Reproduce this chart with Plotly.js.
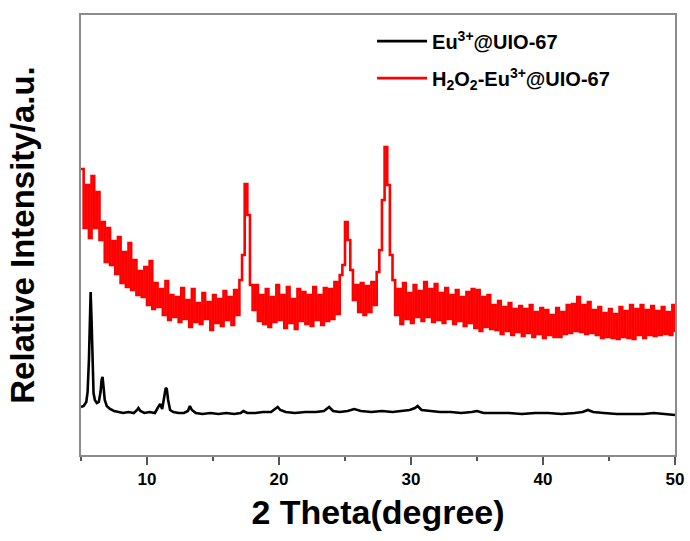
<!DOCTYPE html>
<html>
<head>
<meta charset="utf-8">
<script src="https://cdn.plot.ly/plotly-3.0.1.min.js"></script>
<style>html,body{margin:0;padding:0;background:#fff;}#chart{width:690px;height:541px;}</style>
</head>
<body>
<div id="chart"></div>
<script>
// Eu3+@UIO-67 (black) - 2 Theta (degree) and relative intensity (a.u.)
var blackX = [5.0,5.2,5.4,5.5,5.6,5.67,5.73,5.8,5.88,5.95,6.05,6.2,6.35,6.48,6.56,6.63,6.7,6.8,6.95,7.2,
  7.5,7.8,8.2,8.6,9.0,9.25,9.35,9.5,9.8,10.2,10.6,10.85,11.0,11.15,11.3,11.42,11.5,11.6,11.75,12.0,
  12.4,12.8,13.1,13.25,13.4,13.7,14.2,14.8,15.4,16.0,16.6,17.1,17.3,17.6,18.2,18.8,19.4,19.75,19.9,20.1,
  20.5,21.2,22.0,22.8,23.4,23.8,24.1,24.6,25.2,25.7,26.2,27.0,27.8,28.6,29.3,29.9,30.3,30.5,30.8,31.4,
  32.2,33.0,33.8,34.6,35.0,35.5,36.4,37.4,38.4,39.4,40.4,41.4,42.4,43.0,43.4,43.8,44.6,45.6,46.6,47.6,
  48.4,49.2,50.0];
var blackY = [48,49,53,63,95,137,163,135,83,62,55,52,53,63,75,78,69,55,49,46,
  44,43,42,43,42,45,47,44,42,43,42,48,51,46,57,67,66,55,45,43,
  42,42,44,49,45,42,41,42,41,42,41,42,44,42,42,43,43,46,48,45,
  43,42,43,43,44,48,44,43,44,46,44,43,44,43,44,45,47,49,45,44,
  43,43,42,43,44,42,42,42,41,42,42,41,42,43,45,43,42,41,41,41,
  42,41,40];

// H2O2-Eu3+@UIO-67 (red) - scan points every 0.2 degree
var redX = [
  5.0,5.2,5.4,5.6,5.8, 6.0,6.2,6.4,6.6,6.8, 7.0,7.2,7.4,7.6,7.8, 8.0,8.2,8.4,8.6,8.8,
  9.0,9.2,9.4,9.6,9.8, 10.0,10.2,10.4,10.6,10.8, 11.0,11.2,11.4,11.6,11.8, 12.0,12.2,12.4,12.6,12.8,
  13.0,13.2,13.4,13.6,13.8, 14.0,14.2,14.4,14.6,14.8, 15.0,15.2,15.4,15.6,15.8, 16.0,16.2,16.4,16.6,16.8,
  17.0,17.2,17.4,17.6,17.8, 18.0,18.2,18.4,18.6,18.8, 19.0,19.2,19.4,19.6,19.8, 20.0,20.2,20.4,20.6,20.8,
  21.0,21.2,21.4,21.6,21.8, 22.0,22.2,22.4,22.6,22.8, 23.0,23.2,23.4,23.6,23.8, 24.0,24.2,24.4,24.6,24.8,
  25.0,25.2,25.4,25.6,25.8, 26.0,26.2,26.4,26.6,26.8, 27.0,27.2,27.4,27.6,27.8, 28.0,28.2,28.4,28.6,28.8,
  29.0,29.2,29.4,29.6,29.8, 30.0,30.2,30.4,30.6,30.8, 31.0,31.2,31.4,31.6,31.8, 32.0,32.2,32.4,32.6,32.8,
  33.0,33.2,33.4,33.6,33.8, 34.0,34.2,34.4,34.6,34.8, 35.0,35.2,35.4,35.6,35.8, 36.0,36.2,36.4,36.6,36.8,
  37.0,37.2,37.4,37.6,37.8, 38.0,38.2,38.4,38.6,38.8, 39.0,39.2,39.4,39.6,39.8, 40.0,40.2,40.4,40.6,40.8,
  41.0,41.2,41.4,41.6,41.8, 42.0,42.2,42.4,42.6,42.8, 43.0,43.2,43.4,43.6,43.8, 44.0,44.2,44.4,44.6,44.8,
  45.0,45.2,45.4,45.6,45.8, 46.0,46.2,46.4,46.6,46.8, 47.0,47.2,47.4,47.6,47.8, 48.0,48.2,48.4,48.6,48.8,
  49.0,49.2,49.4,49.6,49.8, 50.0];
var redY = [
  286,227,270,217,279, 227,263,215,233,193, 227,190,214,181,218, 172,203,168,212,165,
  195,160,184,158,188, 150,194,146,172,148, 166,140,174,135,160, 138,158,133,167,136,
  155,128,166,133,152, 131,162,136,153,125, 160,132,156,129,164, 135,158,130,165,140,
  175,200,271,240,170, 145,170,134,160,131, 166,128,158,133,170, 135,160,127,168,132,
  156,126,166,134,163, 131,160,129,168,135, 160,130,167,134,166, 136,173,141,180,190,
  233,215,185,155,170, 143,172,140,169,143, 173,150,183,205,255, 308,270,200,175,140,
  166,131,172,136,162, 132,170,138,164,134, 173,138,166,133,171, 135,162,132,167,136,
  160,131,165,134,158, 129,163,132,166,127, 165,124,158,128,160, 126,150,125,154,121,
  148,124,152,120,146, 123,149,119,146,122, 150,118,143,121,147, 117,145,120,140,118,
  147,118,143,121,150, 122,151,124,158,123, 150,121,153,122,145, 120,148,117,142,118,
  146,117,141,116,148, 118,144,117,150,116, 146,120,150,117,145, 120,149,119,144,120,
  148,121,143,120,150, 123];

var seriesNames = ['Eu<sup>3+</sup>@UIO-67', 'H<sub>2</sub>O<sub>2</sub>-Eu<sup>3+</sup>@UIO-67'];
var xTickVals = [10, 20, 30, 40, 50];
var xTitle = '2 Theta(degree)';
var yTitle = 'Relative Intensity/a.u.';

var fontFam = 'Arial, "Liberation Sans", sans-serif';
var axisGray = '#8c8c8c';

var traces = [
  {x: blackX, y: blackY, name: seriesNames[0], type: 'scatter', mode: 'lines',
   legendgroup: 'a', line: {color: '#000000', width: 2.6}},
  {x: redX, y: redY, name: seriesNames[1], type: 'scatter', mode: 'lines',
   legendgroup: 'b', line: {color: '#ff0000', width: 2.6, shape: 'hv'}}
];

var layout = {
  width: 690, height: 541,
  margin: {l: 81, r: 15, t: 15, b: 86},
  paper_bgcolor: '#ffffff', plot_bgcolor: '#ffffff',
  showlegend: true,
  legend: {x: 0.49, xanchor: 'left', y: 0.985, yanchor: 'top',
    traceorder: 'grouped', tracegroupgap: 8,
    bgcolor: 'rgba(0,0,0,0)', borderwidth: 0, itemwidth: 50,
    font: {family: fontFam, size: 20, color: '#000', weight: 'bold'}},
  xaxis: {
    range: [5, 50], tickvals: xTickVals, ticktext: xTickVals.map(String),
    showgrid: false, zeroline: false, showline: true, linecolor: axisGray, linewidth: 2, mirror: true,
    ticks: 'outside', ticklen: 8, tickwidth: 1.5, tickcolor: '#555',
    minor: {tickvals: [5, 15, 25, 35, 45], ticks: 'outside', ticklen: 4, tickwidth: 1.5, tickcolor: '#555'},
    tickfont: {family: fontFam, size: 17, color: '#000', weight: 'bold'},
    title: {text: xTitle, font: {family: fontFam, size: 34, color: '#000', weight: 'bold'}, standoff: 12}
  },
  yaxis: {
    range: [0, 440], showticklabels: false, ticks: '',
    showgrid: false, zeroline: false, showline: true, linecolor: axisGray, linewidth: 2, mirror: true,
    title: {text: yTitle, font: {family: fontFam, size: 33, color: '#000', weight: 'bold'}, standoff: 34}
  }
};

Plotly.newPlot('chart', traces, layout, {displayModeBar: false, staticPlot: true});
</script>
</body>
</html>
